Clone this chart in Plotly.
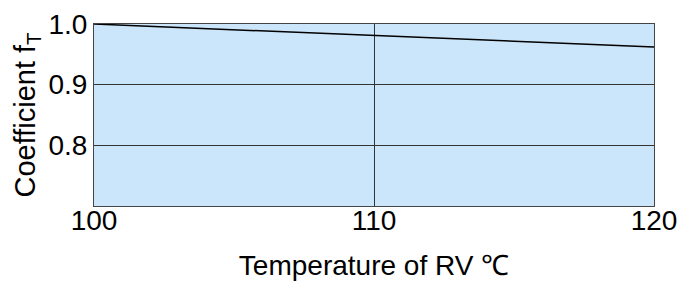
import plotly.graph_objects as go

temps = [100, 110, 120]
coef = [1.0, 0.981, 0.962]
x_ticks = [100, 110, 120]
y_ticks = [0.8, 0.9, 1.0]
y_labels = ["0.8", "0.9", "1.0"]

fig = go.Figure()
fig.add_trace(go.Scatter(x=temps, y=coef, mode="lines",
                         line=dict(color="black", width=1.5), showlegend=False))

font_main = "Liberation Sans, Arial, Helvetica, sans-serif"
fig.update_layout(
    width=686, height=273,
    margin=dict(l=86, r=40, t=16, b=75),
    paper_bgcolor="white", plot_bgcolor="#CBE6FA",
    font=dict(family=font_main, color="black"),
)
fig.update_xaxes(range=[100, 120], tickvals=x_ticks, ticktext=[str(t) for t in x_ticks],
                 showgrid=True, gridcolor="#333333", gridwidth=1,
                 showline=True, linecolor="#444444", linewidth=1, mirror=True,
                 ticks="", tickfont=dict(size=28), zeroline=False, automargin=False,
                 ticklabelstandoff=-11,
                 title=dict(text="Temperature of RV ℃", font=dict(size=28), standoff=21))
fig.update_yaxes(range=[0.7, 1.0], tickvals=y_ticks, ticktext=y_labels,
                 showgrid=True, gridcolor="#333333", gridwidth=1,
                 showline=True, linecolor="#444444", linewidth=1, mirror=True,
                 ticks="", tickfont=dict(size=28), zeroline=False, automargin=False,
                 title=dict(text="Coefficient f<sub>T</sub>", font=dict(size=29), standoff=4))
fig.write_html("out.html")
